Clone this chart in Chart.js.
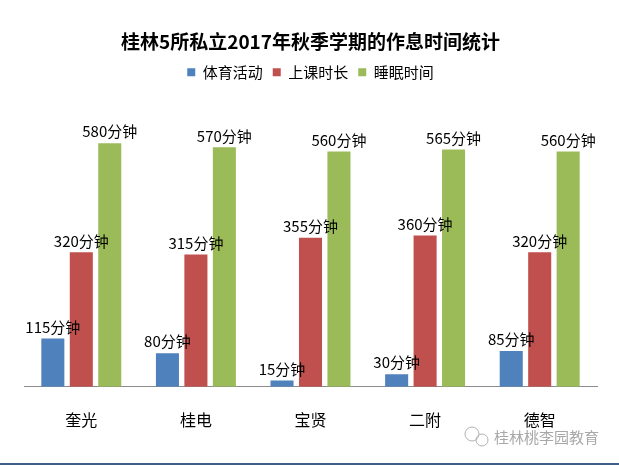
<!DOCTYPE html>
<html>
<head>
<meta charset="utf-8">
<script src="https://cdn.jsdelivr.net/npm/chart.js@4"></script>
<style>
  html, body { margin: 0; padding: 0; background: #fff; }
  #wrap { width: 619px; height: 463px; border-bottom: 2px solid #3f5f86; position: relative; }
</style>
</head>
<body>
<div id="wrap"><canvas id="chart" width="619" height="463"></canvas></div>
<script>
// schools and minutes per day
const schools = ['奎光', '桂电', '宝贤', '二附', '德智'];
const sportMinutes = [115, 80, 15, 30, 85];
const classMinutes = [320, 315, 355, 360, 320];
const sleepMinutes = [580, 570, 560, 565, 560];
const seriesNames = ['体育活动', '上课时长', '睡眠时间'];
const unit = '分钟';

const FONT = '"Noto Sans CJK SC", "Noto Sans", sans-serif';

// draws "xxx分钟" above every bar
const barLabels = {
    id: 'barLabels',
    afterDatasetsDraw(chart) {
        const ctx = chart.ctx;
        ctx.save();
        ctx.font = '15px ' + FONT;
        ctx.fillStyle = '#000';
        ctx.textAlign = 'center';
        ctx.textBaseline = 'bottom';
        chart.data.datasets.forEach((ds, i) => {
            chart.getDatasetMeta(i).data.forEach((bar, j) => {
                ctx.fillText(ds.data[j] + unit, bar.x, bar.y - 4);
            });
        });
        ctx.restore();
    }
};

// watermark bottom right
const watermark = {
    id: 'watermark',
    afterDraw(chart) {
        const ctx = chart.ctx;
        ctx.save();
        ctx.strokeStyle = '#b0b0b0';
        ctx.lineWidth = 1;
        ctx.beginPath();
        ctx.arc(472, 434, 7, 0, Math.PI * 2);
        ctx.stroke();
        ctx.beginPath();
        ctx.arc(482, 440, 6, 0, Math.PI * 2);
        ctx.stroke();
        ctx.font = '15px ' + FONT;
        ctx.fillStyle = '#a8a8a8';
        ctx.textAlign = 'left';
        ctx.textBaseline = 'middle';
        ctx.fillText('桂林桃李园教育', 494, 437);
        ctx.restore();
    }
};

new Chart(document.getElementById('chart'), {
    type: 'bar',
    data: {
        labels: schools,
        datasets: [
            { label: seriesNames[0], data: sportMinutes, backgroundColor: '#4f81bd' },
            { label: seriesNames[1], data: classMinutes, backgroundColor: '#c0504d' },
            { label: seriesNames[2], data: sleepMinutes, backgroundColor: '#9bbb59' }
        ]
    },
    options: {
        responsive: false,
        animation: false,
        categoryPercentage: 0.745,
        barPercentage: 0.81,
        layout: { padding: { left: 24, right: 22, top: 0, bottom: 17 } },
        plugins: {
            title: {
                display: true,
                text: '桂林5所私立2017年秋季学期的作息时间统计',
                color: '#000',
                font: { family: FONT, size: 19, weight: 'bold' },
                padding: { top: 30, bottom: 2 }
            },
            legend: {
                display: true,
                labels: {
                    color: '#000',
                    font: { family: FONT, size: 15 },
                    boxWidth: 8,
                    boxHeight: 8,
                    padding: 10
                }
            },
            tooltip: { enabled: false }
        },
        scales: {
            x: {
                grid: { display: false },
                border: { display: true, color: '#8c8c8c', width: 1 },
                ticks: { color: '#000', font: { family: FONT, size: 16 }, padding: 16 }
            },
            y: {
                display: false,
                min: 0,
                max: 707
            }
        }
    },
    plugins: [barLabels, watermark]
});
</script>
</body>
</html>
